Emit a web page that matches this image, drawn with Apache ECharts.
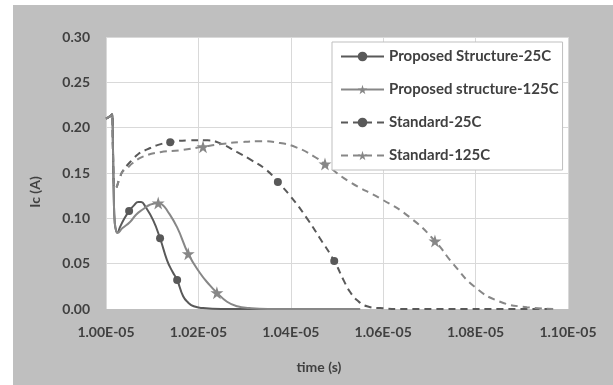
<!DOCTYPE html>
<html><head><meta charset="utf-8">
<script src="https://cdn.jsdelivr.net/npm/echarts@6/dist/echarts.min.js"></script>
<style>html,body{margin:0;padding:0;background:#fff}#c{width:613px;height:385px}</style>
</head><body><div id="c"></div>
<script>
// time in units of 1E-05 s, current in A
const seriesNames = ['Proposed Structure-25C','Proposed structure-125C','Standard-25C','Standard-125C'];
const xTicks = ['1.00E-05','1.02E-05','1.04E-05','1.06E-05','1.08E-05','1.10E-05'];

const prop25T = [1.0000,1.0010,1.0013,1.0015,1.0017,1.0019,1.0022,1.0025,1.0030,1.0040,1.0050,1.0060,1.0070,1.0076,1.0085,1.0102,1.0117,1.0132,1.0144,1.0154,1.0167,1.0178,1.0190,1.0210,1.0250,1.0550];
const prop25I = [0.210,0.213,0.215,0.180,0.120,0.095,0.086,0.084,0.090,0.100,0.108,0.114,0.118,0.118,0.113,0.098,0.078,0.054,0.041,0.032,0.014,0.007,0.003,0.001,0.000,0.000];
const prop25Marks = [10,16,19];

const prop125T = [1.0000,1.0010,1.0013,1.0015,1.0017,1.0019,1.0022,1.0025,1.0035,1.0052,1.0065,1.0080,1.0095,1.0113,1.0122,1.0132,1.0154,1.0178,1.0203,1.0225,1.0240,1.0262,1.0284,1.0310,1.0350,1.0550];
const prop125I = [0.210,0.213,0.215,0.180,0.120,0.095,0.086,0.084,0.089,0.096,0.104,0.110,0.115,0.117,0.115,0.109,0.090,0.061,0.040,0.026,0.018,0.008,0.003,0.001,0.000,0.000];
const prop125Marks = [13,17,20];

const std25T = [1.0000,1.0010,1.0013,1.0015,1.0017,1.0020,1.0030,1.0035,1.0045,1.0058,1.0070,1.0089,1.0113,1.0139,1.0180,1.0220,1.0250,1.0284,1.0312,1.0348,1.0372,1.0400,1.0435,1.0463,1.0494,1.0515,1.0528,1.0545,1.0565,1.0593,1.0650,1.0968];
const std25I = [0.210,0.213,0.215,0.175,0.140,0.133,0.145,0.151,0.158,0.165,0.171,0.176,0.181,0.184,0.186,0.186,0.182,0.173,0.165,0.153,0.140,0.124,0.100,0.078,0.053,0.031,0.019,0.009,0.003,0.001,0.000,0.000];
const std25Marks = [13,20,24];

const std125T = [1.0000,1.0010,1.0013,1.0015,1.0017,1.0020,1.0030,1.0035,1.0045,1.0058,1.0080,1.0117,1.0160,1.0210,1.0250,1.0290,1.0330,1.0377,1.0413,1.0448,1.0474,1.0528,1.0597,1.0658,1.0712,1.0751,1.0799,1.0853,1.0911,1.0968];
const std125I = [0.210,0.213,0.215,0.175,0.140,0.133,0.145,0.151,0.155,0.161,0.168,0.173,0.175,0.179,0.182,0.184,0.185,0.183,0.178,0.169,0.160,0.140,0.121,0.101,0.075,0.050,0.024,0.008,0.002,0.000];
const std125Marks = [13,20,24];

const STAR = 'path://M50,0 L61,35 L98,35 L68,57 L79,91 L50,70 L21,91 L32,57 L2,35 L39,35 Z';
const DARK = '#595959', LIGHT = '#878787';
const FONT = 'Lato';

function build(T, I, marks) {
  return T.map((t, i) => marks.includes(i) ? [t, I[i]] : { value: [t, I[i]], symbol: 'none' });
}
function mk(name, T, I, marks, color, symbol, size, dashed) {
  return {
    name, type: 'line', smooth: 0.5,
    showSymbol: true, showAllSymbol: true,
    symbol, symbolSize: size,
    data: build(T, I, marks),
    itemStyle: { color, borderWidth: 0 },
    lineStyle: { color, width: 2, type: dashed ? [7, 5] : 'solid' },
    animation: false
  };
}

const chart = echarts.init(document.getElementById('c'), null, { renderer: 'canvas' });
chart.setOption({
  backgroundColor: '#ffffff',
  animation: false,
  graphic: [{ type: 'rect', z: -10, shape: { x: 13, y: 5, width: 600, height: 380 }, style: { fill: '#bfbfbf' } }],
  grid: { left: 106, top: 37, right: 45, bottom: 76, show: true, backgroundColor: '#ffffff', borderWidth: 0 },
  legend: {
    orient: 'vertical', left: 332, top: 42,
    padding: [7, 4, 7, 8], itemGap: 18, itemWidth: 43, itemHeight: 12,
    backgroundColor: '#ffffff', borderColor: '#bfbfbf', borderWidth: 1,
    textStyle: { fontFamily: FONT, fontWeight: 'bold', fontSize: 15, color: '#404040' },
    data: seriesNames
  },
  xAxis: {
    type: 'value', min: 1.00, max: 1.10, interval: 0.02,
    name: 'time (s)', nameLocation: 'middle', nameGap: 51,
    nameTextStyle: { fontFamily: FONT, fontWeight: 'bold', fontSize: 14, color: '#404040', padding: [0, 36, 0, 0] },
    axisLine: { show: true, lineStyle: { color: '#bfbfbf', width: 1 } },
    axisTick: { show: false },
    splitLine: { show: true, lineStyle: { color: '#d9d9d9', width: 1 } },
    axisLabel: { margin: 16, fontFamily: FONT, fontWeight: 'bold', fontSize: 14, color: '#404040',
      formatter: v => xTicks[Math.round((v - 1.00) / 0.02)] }
  },
  yAxis: {
    type: 'value', min: 0, max: 0.30, interval: 0.05,
    name: 'Ic (A)', nameLocation: 'middle', nameGap: 64,
    nameTextStyle: { fontFamily: FONT, fontWeight: 'bold', fontSize: 14, color: '#404040', padding: [0, 38, 0, 0] },
    axisLine: { show: false }, axisTick: { show: false },
    splitLine: { show: true, lineStyle: { color: '#d9d9d9', width: 1 } },
    axisLabel: { margin: 16, fontFamily: FONT, fontWeight: 'bold', fontSize: 14, color: '#404040',
      formatter: v => v.toFixed(2) }
  },
  series: [
    mk(seriesNames[0], prop25T, prop25I, prop25Marks, DARK, 'circle', 8, false),
    mk(seriesNames[1], prop125T, prop125I, prop125Marks, LIGHT, STAR, 13, false),
    mk(seriesNames[2], std25T, std25I, std25Marks, DARK, 'circle', 8, true),
    mk(seriesNames[3], std125T, std125I, std125Marks, LIGHT, STAR, 13, true)
  ]
});
</script></body></html>
